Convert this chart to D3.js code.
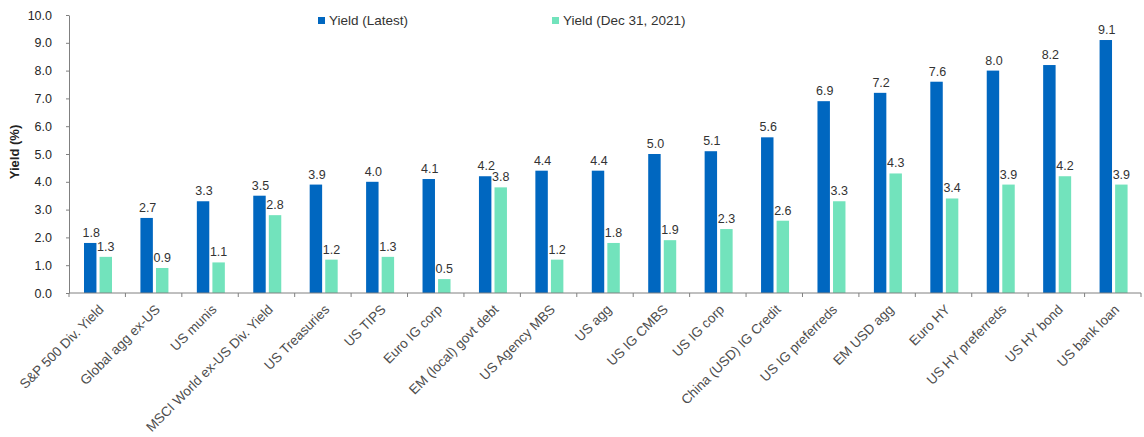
<!DOCTYPE html>
<html><head><meta charset="utf-8">
<script src="https://cdn.jsdelivr.net/npm/d3@7"></script>
<style>body{margin:0;background:#fff;}svg{display:block;font-family:"Liberation Sans",Arial,sans-serif;}</style>
</head><body><svg id="c" width="1144" height="437"></svg>
<script>
const categories = ["S&P 500 Div. Yield","Global agg ex-US","US munis","MSCI World ex-US Div. Yield","US Treasuries","US TIPS","Euro IG corp","EM (local) govt debt","US Agency MBS","US agg","US IG CMBS","US IG corp","China (USD) IG Credit","US IG preferreds","EM USD agg","Euro HY","US HY preferreds","US HY bond","US bank loan"];
const yieldLatest = [1.8,2.7,3.3,3.5,3.9,4.0,4.1,4.2,4.4,4.4,5.0,5.1,5.6,6.9,7.2,7.6,8.0,8.2,9.1];
const yieldDec2021 = [1.3,0.9,1.1,2.8,1.2,1.3,0.5,3.8,1.2,1.8,1.9,2.3,2.6,3.3,4.3,3.4,3.9,4.2,3.9];
const seriesNames = ["Yield (Latest)","Yield (Dec 31, 2021)"];
const seriesColors = ["#0067c0","#72e3bc"];
const yTicks = [0,1,2,3,4,5,6,7,8,9,10];

const svg = d3.select("#c");
const L = 69, R = 1141, T = 15, B = 293;
const x = d3.scaleBand().domain(categories).range([L, R]).padding(0);
const xs = d3.scaleBand().domain([0,1]).range([15, 43]).paddingInner(0.2);
const y = d3.scaleLinear().domain([0,10]).range([B, T]);
const series = [yieldLatest, yieldDec2021];

// bars
series.forEach((vals, si) => {
  const g = svg.append("g");
  g.selectAll("rect").data(categories).join("rect")
    .attr("x", d => x(d) + xs(si))
    .attr("y", (d,i) => y(vals[i]))
    .attr("width", xs.bandwidth())
    .attr("height", (d,i) => y(0) - y(vals[i]))
    .attr("fill", seriesColors[si]);
  g.selectAll("text").data(categories).join("text")
    .attr("x", d => x(d) + xs(si) + xs.bandwidth()/2 + (si===0 ? 1 : 0))
    .attr("y", (d,i) => y(vals[i]) - 6)
    .attr("text-anchor", "middle")
    .attr("font-size", 12.5)
    .attr("fill", "#333")
    .text((d,i) => vals[i].toFixed(1));
});

// y axis
const yAxis = svg.append("g").attr("transform", `translate(${L},0)`)
  .call(d3.axisLeft(y).tickValues(yTicks).tickFormat(d3.format(".1f")).tickSize(3).tickPadding(14).tickSizeOuter(0));
yAxis.select(".domain").attr("stroke", "#808080");
yAxis.selectAll(".tick line").attr("stroke", "#808080");
yAxis.selectAll(".tick text").attr("font-size", 12.5).attr("fill", "#262626").attr("font-family", "Liberation Sans, Arial, sans-serif");

// x axis
const xAxisG = svg.append("g");
xAxisG.append("line").attr("x1", L).attr("x2", R).attr("y1", B).attr("y2", B).attr("stroke", "#808080");
const bounds = categories.map(d => x(d)).concat([R]);
xAxisG.selectAll("line.tk").data(bounds).join("line").attr("class","tk")
  .attr("x1", d => d).attr("x2", d => d).attr("y1", B).attr("y2", B + 4).attr("stroke", "#808080");
xAxisG.selectAll("text").data(categories).join("text")
  .attr("transform", d => `translate(${x(d) + x.bandwidth()/2 + 4},${B + 14}) rotate(-45)`)
  .attr("text-anchor", "end")
  .attr("dy", "0.35em")
  .attr("font-size", 13.5)
  .attr("fill", "#4d4d4d")
  .text(d => d);

// y title
svg.append("text").attr("transform", "translate(19,152) rotate(-90)")
  .attr("text-anchor", "middle").attr("font-size", 13).attr("font-weight", "bold").attr("fill", "#222")
  .text("Yield (%)");

// legend
const legX = [318, 552];
seriesNames.forEach((n, i) => {
  svg.append("rect").attr("x", legX[i]).attr("y", 17).attr("width", 7).attr("height", 7).attr("fill", seriesColors[i]);
  svg.append("text").attr("x", legX[i] + 11).attr("y", 25).attr("font-size", 13.5).attr("fill", "#333").text(n);
});
</script></body></html>
